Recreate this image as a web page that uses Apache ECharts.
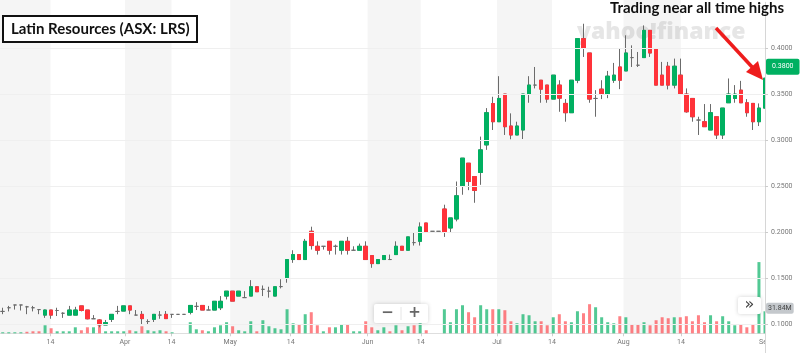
<!DOCTYPE html>
<html>
<head>
<meta charset="utf-8">
<script src="https://cdn.jsdelivr.net/npm/echarts@6/dist/echarts.min.js"></script>
<style>
  html, body { margin: 0; padding: 0; background: #fff; }
  #chart { width: 800px; height: 353px; }
</style>
</head>
<body>
<div id="chart"></div>
<script>
// daily candles, trading day 1 (early Mar) .. 127 (1 Sep)
const opens = [
  .114, .118, .121, .121, .119, .118, .116, .110, .1155, .115,
  .112, .110, .110, .120, .1155, .106, .1047, .0993, .1054, .114,
  .1144, .120, .110, .1108, .103, .1054, .110, .1108, .1108, .1108,
  .1108, .113, .1195, .1205, .1155, .1155, .118, .1307, .136, .1307,
  .129, .1307, .1408, .138, .136, .1307, .141, .1506, .1704, .1758,
  .1704, .2011, .1848, .1848, .1902, .1848, .1805, .1902, .1805, .1805,
  .1848, .1747, .166, .1704, .1704, .1758, .1848, .1805, .1888, .1902,
  .2101, .2011, .2011, .2253, .2047, .2145, .2505, .2751, .2606, .265,
  .295, .34, .3202, .3502, .3155, .3058, .3112, .3502, .36, .3653,
  .36, .3448, .36, .3401, .33, .3653, .4105, .3949, .3455, .3556,
  .3502, .3653, .3797, .3754, .3899, .3816, .3899, .4195, .3997, .3708,
  .3805, .36, .3708, .3502, .3455, .322, .3202, .3112, .3256, .3058,
  .3408, .3455, .3545, .3408, .3401, .3202, .335
];
const closes = [
  .114, .118, .121, .121, .119, .118, .116, .1155, .110, .115,
  .112, .1155, .1155, .115, .106, .106, .0995, .1018, .1108, .114,
  .120, .1155, .110, .1062, .103, .1108, .110, .1062, .1108, .1108,
  .1108, .1205, .1195, .1155, .1155, .125, .125, .136, .1252, .136,
  .129, .1408, .1354, .138, .136, .1408, .141, .1704, .1758, .1704,
  .1902, .1856, .1805, .1848, .1805, .1848, .1902, .1805, .1805, .1848,
  .1704, .166, .1704, .1747, .1704, .1848, .1805, .195, .1888, .2058,
  .2, .2011, .2011, .2, .2156, .2397, .2806, .2552, .2455, .2896,
  .33, .3202, .3455, .3148, .3058, .3155, .3502, .36, .36, .3556,
  .3448, .3708, .3458, .33, .3653, .4105, .40, .3448, .3455, .3502,
  .3697, .3708, .3653, .3949, .3899, .3816, .4195, .3949, .36, .36,
  .36, .3805, .3502, .331, .3256, .322, .3148, .33, .3058, .335,
  .3502, .3502, .3408, .33, .3202, .335, .3675
];
const lows = [
  .111, .114, .116, .115, .111, .114, .111, .107, .106, .109,
  .107, .110, .110, .114, .1054, .106, .0967, .0993, .1025, .111,
  .1144, .111, .110, .100, .100, .1025, .106, .1062, .107, .1108,
  .1108, .1108, .1155, .1155, .1155, .1155, .1155, .127, .1252, .1307,
  .129, .1307, .1354, .1307, .129, .1307, .139, .1452, .1668, .1704,
  .1704, .1812, .1758, .1812, .1758, .1758, .1758, .1758, .1805, .1805,
  .1704, .1614, .166, .1704, .1704, .1758, .1805, .1805, .1856, .1856,
  .2, .2011, .2011, .195, .2, .2119, .2408, .2458, .2321, .2516,
  .2896, .3112, .3202, .3058, .3011, .3058, .3014, .3408, .3564, .3408,
  .3408, .3448, .331, .3202, .33, .3621, .3906, .3408, .3256, .3448,
  .3458, .3624, .3556, .3754, .3797, .3797, .3899, .3906, .36, .36,
  .3553, .3564, .3502, .33, .3202, .3058, .3148, .3112, .3014, .3014,
  .3408, .3408, .3408, .3256, .3112, .3155, .335
];
const highs = [
  .118, .120, .121, .121, .120, .120, .116, .116, .1155, .118,
  .113, .120, .119, .120, .1155, .110, .1054, .1047, .1108, .120,
  .120, .120, .1155, .1144, .1054, .1108, .1144, .1144, .1108, .1108,
  .1108, .1205, .124, .1205, .120, .125, .1307, .136, .136, .136,
  .136, .148, .1408, .1422, .1408, .1408, .149, .1704, .1805, .1758,
  .1928, .2061, .1902, .1848, .1902, .1866, .1902, .195, .1848, .1877,
  .1902, .1747, .1704, .1747, .1758, .1902, .1848, .195, .1993, .2108,
  .2101, .2011, .2011, .23, .2156, .2552, .2806, .2751, .2606, .304,
  .335, .3473, .3697, .3502, .3293, .3202, .3502, .3697, .3797, .3653,
  .36, .3708, .3653, .3448, .3653, .4105, .4267, .3949, .3545, .3653,
  .3754, .3841, .40, .4141, .4032, .396, .4249, .4195, .3997, .3852,
  .3852, .3888, .3888, .3564, .3455, .3256, .3394, .3394, .3256, .335,
  .3672, .36, .3646, .3448, .3401, .3401, .3675
];
// volume in millions of shares
const volumes = [
  1.5, 1.5, 1.5, 1.5, 2.2, 2.9, 2.9, 11.6, 7.3, 2.9,
  2.9, 2.9, 8.7, 4.4, 8.7, 8.7, 18.9, 2.9, 2.9, 2.9,
  2.9, 4.4, 2.9, 10.2, 4.4, 2.9, 4.4, 2.9, 1.5, 0,
  0, 16.0, 5.8, 4.4, 2.9, 8.7, 11.6, 16.0, 10.2, 4.4,
  2.9, 17.4, 2.9, 18.9, 10.2, 7.3, 5.8, 34.8, 14.5, 13.1,
  27.6, 30.5, 11.6, 2.9, 8.7, 8.7, 13.1, 13.1, 2.9, 2.9,
  17.4, 8.7, 4.4, 8.7, 2.9, 11.6, 4.4, 10.2, 11.6, 14.5,
  4.4, 0, 0, 34.8, 16.0, 34.8, 40.6, 30.5, 23.2, 40.6,
  34.8, 34.8, 34.8, 33.4, 17.4, 14.5, 27.6, 26.1, 17.4, 17.4,
  11.6, 23.2, 27.6, 17.4, 16.0, 31.9, 29.0, 42.1, 37.7, 23.2,
  16.0, 14.5, 24.7, 23.2, 13.1, 13.1, 16.0, 11.6, 18.9, 23.2,
  21.8, 23.2, 23.2, 24.7, 17.4, 26.1, 16.0, 26.1, 17.4, 24.7,
  17.4, 11.6, 13.1, 8.7, 13.1, 103.0, 31.84
];
const volumeUp = [
  1, 1, 1, 1, 0, 0, 0, 1, 0, 1, 1, 1, 1, 0, 0, 1, 0, 1, 1, 1,
  1, 0, 1, 0, 1, 1, 1, 0, 1, 1, 1, 1, 1, 0, 1, 1, 1, 1, 0, 1,
  1, 1, 0, 1, 1, 1, 1, 1, 1, 0, 1, 0, 0, 1, 0, 1, 1, 0, 1, 1,
  0, 0, 1, 1, 0, 1, 0, 1, 0, 1, 0, 1, 1, 1, 1, 1, 1, 0, 0, 1,
  1, 0, 1, 0, 0, 1, 1, 1, 1, 0, 0, 1, 0, 0, 1, 1, 0, 0, 1, 1,
  1, 1, 0, 1, 0, 0, 1, 0, 0, 0, 0, 1, 0, 0, 0, 0, 0, 1, 0, 1,
  1, 1, 0, 0, 0, 1, 1
];
// date labels, placed on the trading-day scale
const tickPos = [8.9, 21.2, 28.9, 38.6, 48.6, 61.3, 70.1, 82.7, 91.8, 103.6, 113.1, 127];
const tickText = ['14', 'Apr', '14', 'May', '14', 'Jun', '14', 'Jul', '14', 'Aug', '14', 'Sep'];
const lastPrice = 0.38;
const lastVolume = 31.84;

const UP = '#00b061', DOWN = '#ff333a', WICK = '#6b6b6b';
const X_MIN = 0.55, X_MAX = 127;
const LABEL_FONT = 'Roboto';

const days = opens.map((_, i) => i + 1);
const wicks = days.map((d, i) => [d, opens[i], closes[i], lows[i], highs[i]]);
const bodies = days
  .filter((d, i) => opens[i] !== closes[i])
  .map(d => {
    const o = opens[d - 1], c = closes[d - 1];
    return [d, o, c, Math.min(o, c), Math.max(o, c)];
  });
const vols = days.map((d, i) => ({
  value: [d, volumes[i]],
  itemStyle: { color: volumeUp[i] ? 'rgba(0,176,97,0.68)' : 'rgba(255,51,58,0.62)' }
}));

// shaded bands: first half of every month
const bands = [[X_MIN, tickPos[0]]];
tickText.forEach((t, i) => {
  if (t !== '14' && tickText[i + 1] === '14') bands.push([tickPos[i], tickPos[i + 1]]);
});

const tickLabel = v => {
  const k = tickPos.findIndex(p => Math.abs(p - v) < 1e-6);
  return k < 0 ? '' : tickText[k];
};

const xBase = { type: 'value', min: X_MIN, max: X_MAX, scale: true };

const decorations = [
  {
    type: 'text', left: 577, top: 21, z: 1, silent: true,
    style: { text: 'yahoo!finance', fontFamily: 'Open Sans', fontSize: 23, fontWeight: 800, fill: '#e6e6e6' }
  },
  // price-axis panel: white strip right of the plot (cuts the last candle and 'Sep')
  { type: 'rect', z: 65, silent: true, shape: { x: 765.5, y: 0, width: 35, height: 353 }, style: { fill: '#fff' } },
  {
    type: 'text', left: 610, top: 1, z: 90,
    style: { text: 'Trading near all time highs', fontFamily: 'Lato', fontSize: 15, fontWeight: 'bold', fill: '#111' }
  },
  {
    type: 'line', z: 90,
    shape: { x1: 716, y1: 28, x2: 753, y2: 68 },
    style: { stroke: '#ee1c1c', lineWidth: 3.5 }
  },
  {
    type: 'polygon', z: 90,
    shape: { points: [[763, 80], [746, 72], [758, 61]] },
    style: { fill: '#ee1c1c' }
  },
  // zoom buttons
  {
    type: 'rect', z: 40, shape: { x: 374, y: 304, width: 54, height: 19, r: 2 },
    style: { fill: '#fff', shadowBlur: 4, shadowColor: 'rgba(0,0,0,0.18)' }
  },
  { type: 'line', z: 41, shape: { x1: 401, y1: 307, x2: 401, y2: 320 }, style: { stroke: '#e6e6e6', lineWidth: 1 } },
  {
    type: 'text', z: 41, x: 387.5, y: 313.5,
    style: { text: '−', fontFamily: 'DejaVu Sans', fontSize: 15, fontWeight: 'bold', fill: '#666', align: 'center', verticalAlign: 'middle' }
  },
  {
    type: 'text', z: 41, x: 414.5, y: 313.5,
    style: { text: '+', fontFamily: 'DejaVu Sans', fontSize: 15, fontWeight: 'bold', fill: '#666', align: 'center', verticalAlign: 'middle' }
  },
  {
    type: 'rect', z: 40, shape: { x: 738, y: 297, width: 23, height: 17, r: 2 },
    style: { fill: '#fff', shadowBlur: 4, shadowColor: 'rgba(0,0,0,0.18)' }
  },
  {
    type: 'text', z: 41, x: 749.5, y: 305,
    style: { text: '»', fontFamily: 'DejaVu Sans', fontSize: 16, fill: '#444', align: 'center', verticalAlign: 'middle' }
  }
];

const option = {
  animation: false,
  backgroundColor: '#fff',
  title: {
    text: 'Latin Resources (ASX: LRS)',
    left: 3, top: 16,
    padding: [6, 8, 5, 8],
    borderWidth: 2, borderColor: '#111', backgroundColor: '#fff',
    textStyle: { fontFamily: 'Lato', fontSize: 15, fontWeight: 'bold', color: '#111' }
  },
  grid: [
    { left: 0, right: 35, top: 2.3, bottom: -17.3, outerBoundsMode: 'none' },   // price
    { left: 0, right: 35, top: 229.6, bottom: 19.7, outerBoundsMode: 'none' },  // volume
    { left: 0, right: 35, top: 0, bottom: 19.7, outerBoundsMode: 'none' }       // month bands
  ],
  xAxis: [
    Object.assign({ gridIndex: 0, show: false }, xBase),
    Object.assign({
      gridIndex: 1,
      axisLine: { show: true, lineStyle: { color: '#dedede' } },
      axisTick: { show: true, customValues: tickPos, length: 3, lineStyle: { color: '#cfcfcf' } },
      axisLabel: {
        customValues: tickPos, formatter: tickLabel,
        fontFamily: LABEL_FONT, fontSize: 7, color: '#777', margin: 5
      },
      splitLine: { show: false }
    }, xBase),
    Object.assign({ gridIndex: 2, show: false }, xBase)
  ],
  yAxis: [
    {
      gridIndex: 0, type: 'value', position: 'right', z: 80,
      min: 0.05, max: 0.45, interval: 0.05,
      axisLine: { show: true, lineStyle: { color: '#d6d6d6' } },
      axisTick: { show: true, length: 3, lineStyle: { color: '#cccccc' } },
      axisLabel: {
        formatter: v => v.toFixed(4), showMaxLabel: false, showMinLabel: false,
        fontFamily: LABEL_FONT, fontSize: 7, color: '#777', margin: 6
      },
      splitLine: { show: true, showMaxLine: false, lineStyle: { color: '#efefef' } }
    },
    { gridIndex: 1, type: 'value', min: 0, max: 150, show: false },
    { gridIndex: 2, type: 'value', min: 0, max: 1, show: false }
  ],
  graphic: decorations,
  series: [
    {
      type: 'line', xAxisIndex: 2, yAxisIndex: 2, z: 1,
      data: [[X_MIN, 0]], symbol: 'none', lineStyle: { opacity: 0 }, silent: true,
      markArea: {
        silent: true,
        itemStyle: { color: 'rgba(0,0,0,0.04)' },
        data: bands.map(b => [{ xAxis: b[0] }, { xAxis: b[1] }])
      }
    },
    {
      name: 'range', type: 'candlestick', xAxisIndex: 0, yAxisIndex: 0, z: 3,
      barWidth: 4, data: wicks,
      itemStyle: {
        color: 'rgba(0,0,0,0)', color0: 'rgba(0,0,0,0)',
        borderColor: WICK, borderColor0: WICK, borderColorDoji: WICK, borderWidth: 1
      }
    },
    {
      name: 'body', type: 'candlestick', xAxisIndex: 0, yAxisIndex: 0, z: 4,
      barWidth: 4, data: bodies,
      itemStyle: { color: UP, color0: DOWN, borderColor: UP, borderColor0: DOWN, borderWidth: 1 }
    },
    {
      name: 'volume', type: 'bar', xAxisIndex: 1, yAxisIndex: 1, z: 3,
      barWidth: 3, data: vols
    }
  ]
};

const chart = echarts.init(document.getElementById('chart'), null, { renderer: 'canvas' });
chart.setOption(option);

// last-value tags on the price axis, placed through the axis scales
const axisX = chart.convertToPixel({ xAxisIndex: 0 }, X_MAX);
const priceY = chart.convertToPixel({ yAxisIndex: 0 }, lastPrice);
const volY = chart.convertToPixel({ yAxisIndex: 1 }, lastVolume);
chart.setOption({
  graphic: decorations.concat([
    {
      type: 'text', z: 95, x: axisX + 1, y: priceY,
      style: {
        text: lastPrice.toFixed(4), fontFamily: LABEL_FONT, fontSize: 7, fill: '#fff',
        backgroundColor: UP, padding: [5, 6, 4, 6], borderRadius: 2, verticalAlign: 'middle'
      }
    },
    {
      type: 'text', z: 95, x: axisX + 1, y: volY - 3,
      style: {
        text: lastVolume.toFixed(2) + 'M', fontFamily: LABEL_FONT, fontSize: 7, fill: '#444',
        backgroundColor: '#c4c8cc', padding: [2, 2, 2, 2], borderRadius: 2, verticalAlign: 'middle'
      }
    }
  ])
});
</script>
</body>
</html>
